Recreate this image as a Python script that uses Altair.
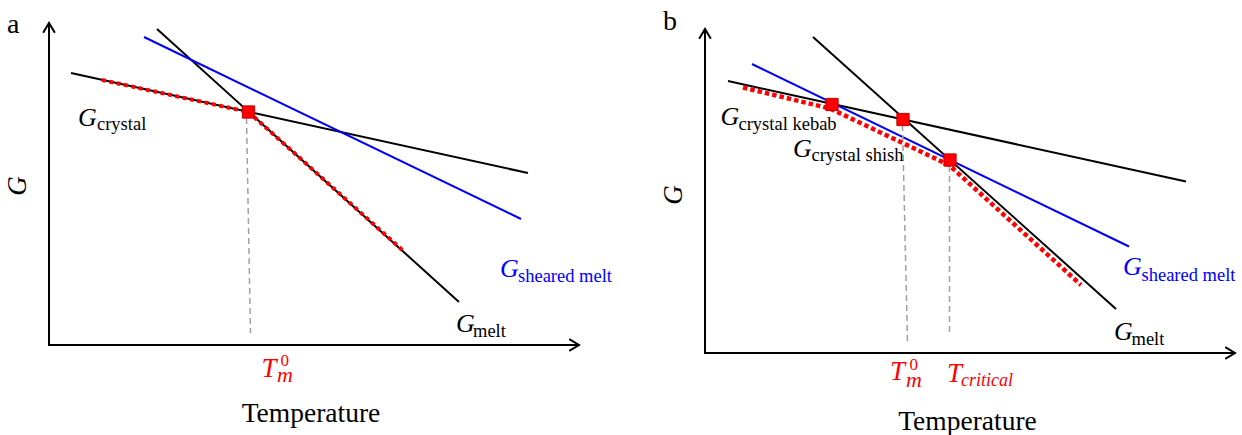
import altair as alt
import pandas as pd

SERIF = "Liberation Serif"
RED = "#ff0000"
BLUE = "#0000ff"
GREY = "#a0a0a0"

# ---------------- panel a : quiescent melt ----------------
# units: T to the right of the G axis, G above the temperature axis
A_AXIS_T = [0, 0, 530]
A_AXIS_G = [322, 0, 0]
A_CRYSTAL_T = [22, 479]
A_CRYSTAL_G = [272, 172]
A_MELT_T = [108, 410]
A_MELT_G = [316, 43]
A_SHEAR_T = [95, 472]
A_SHEAR_G = [308, 126]
A_STABLE_T = [53, 199.5, 355]          # lowest-G branch
A_STABLE_G = [265, 233, 93.5]
A_TM_T = [199.5]
A_TM_G = [233]
A_DROP_T = [197.5, 201.5]
A_DROP_G = [227, 12]

# ---------------- panel b : sheared melt ----------------
B_AXIS_T = [0, 0, 530]
B_AXIS_G = [324, 0, 0]
B_CRYSTAL_T = [23, 481]
B_CRYSTAL_G = [272, 171.5]
B_MELT_T = [108, 411]
B_MELT_G = [316, 44]
B_SHEAR_T = [47, 424]
B_SHEAR_G = [289, 106.5]
B_STABLE_T = [38, 125, 244, 376]
B_STABLE_G = [265.5, 244.5, 188, 68]
B_POINTS_T = [127, 198, 245]           # kebab, T_m^0, T_critical
B_POINTS_G = [248.5, 233.5, 193]
B_DROP1_T = [197.5, 202.5]
B_DROP1_G = [228, 11.5]
B_DROP2_T = [244.5, 244.5]
B_DROP2_G = [187, 20]

PANEL_TAGS = ["a", "b"]
X_TITLE = "Temperature"
Y_TITLE = "G"
SUB_CRYSTAL = "crystal"
SUB_KEBAB = "crystal kebab"
SUB_SHISH = "crystal shish"
SUB_SHEAR = "sheared melt"
SUB_MELT = "melt"
SUB_CRIT = "critical"

ONE = pd.DataFrame({"k": [0]})
ARROW = "M-0.9,1.5L0,0L0.9,1.5"


def panel(width, t0, g0):
    xs = alt.Scale(domain=[-t0, width - t0], nice=False, zero=False)
    ys = alt.Scale(domain=[g0 - 435, g0], nice=False, zero=False)

    def line(ts, gs, color, w, dash=None):
        df = pd.DataFrame({"T": ts, "G": gs, "i": list(range(len(ts)))})
        kw = dict(color=color, strokeWidth=w)
        if dash:
            kw["strokeDash"] = dash
        return alt.Chart(df).mark_line(**kw).encode(
            x=alt.X("T:Q", scale=xs, axis=None),
            y=alt.Y("G:Q", scale=ys, axis=None),
            order="i:Q",
        )

    def squares(ts, gs):
        df = pd.DataFrame({"T": ts, "G": gs})
        return alt.Chart(df).mark_point(
            shape="square", filled=True, fill=RED, stroke="#c00000",
            strokeWidth=1, size=150, opacity=1,
        ).encode(
            x=alt.X("T:Q", scale=xs, axis=None),
            y=alt.Y("G:Q", scale=ys, axis=None),
        )

    def arrow(t, g, ang):
        return alt.Chart(ONE).mark_point(
            shape=ARROW, filled=False, color="black", strokeWidth=2,
            size=169, angle=ang, opacity=1,
        ).encode(
            x=alt.XDatum(t, type="quantitative", scale=xs, axis=None),
            y=alt.YDatum(g, type="quantitative", scale=ys, axis=None),
        )

    def txt(s, t, g, size, color="black", style="normal", align="left",
            baseline="alphabetic", angle=0):
        return alt.Chart(ONE).mark_text(
            text=s, font=SERIF, fontSize=size, fontStyle=style, color=color,
            align=align, baseline=baseline, angle=angle,
        ).encode(
            x=alt.XDatum(t, type="quantitative", scale=xs, axis=None),
            y=alt.YDatum(g, type="quantitative", scale=ys, axis=None),
        )

    return line, squares, arrow, txt


# ---- panel a ----
line, squares, arrow, txt = panel(620, 49, 345)
layers_a = [
    line(A_AXIS_T, A_AXIS_G, "black", 2),
    arrow(A_AXIS_T[0], A_AXIS_G[0], 0),
    arrow(A_AXIS_T[-1], A_AXIS_G[-1], 90),
    line(A_CRYSTAL_T, A_CRYSTAL_G, "black", 2),
    line(A_MELT_T, A_MELT_G, "black", 2),
    line(A_SHEAR_T, A_SHEAR_G, BLUE, 2),
    line(A_STABLE_T, A_STABLE_G, RED, 4, [4, 3.5]),
    line(A_DROP_T, A_DROP_G, GREY, 1.5, [6, 4]),
    squares(A_TM_T, A_TM_G),
    txt(PANEL_TAGS[0], -42, 312, 28),
    txt(Y_TITLE, -31, 159, 27, style="italic", align="center",
        baseline="middle", angle=270),
    txt(X_TITLE, 262, -77, 27.5, align="center"),
    txt("G", 29, 219, 26, style="italic"),
    txt(SUB_CRYSTAL, 48, 215, 18.5),
    txt("G", 451, 68, 26, color=BLUE, style="italic"),
    txt(SUB_SHEAR, 469, 63.5, 18.5, color=BLUE),
    txt("G", 407, 13, 26, style="italic"),
    txt(SUB_MELT, 424, 8.5, 18.5),
    txt("T", 212.5, -32, 27, color=RED, style="italic"),
    txt("0", 231.5, -20.5, 17, color=RED),
    txt("m", 228, -36.5, 22, color=RED, style="italic"),
]
chart_a = alt.layer(*layers_a).properties(width=620, height=435)

# ---- panel b ----
line, squares, arrow, txt = panel(622, 85, 353)
layers_b = [
    line(B_AXIS_T, B_AXIS_G, "black", 2),
    arrow(B_AXIS_T[0], B_AXIS_G[0], 0),
    arrow(B_AXIS_T[-1], B_AXIS_G[-1], 90),
    line(B_CRYSTAL_T, B_CRYSTAL_G, "black", 2),
    line(B_MELT_T, B_MELT_G, "black", 2),
    line(B_STABLE_T, B_STABLE_G, RED, 4.5, [4.5, 3]),
    line(B_SHEAR_T, B_SHEAR_G, BLUE, 2),
    line(B_DROP1_T, B_DROP1_G, GREY, 1.5, [6, 4]),
    line(B_DROP2_T, B_DROP2_G, GREY, 1.5, [6, 4]),
    squares(B_POINTS_T, B_POINTS_G),
    txt(PANEL_TAGS[1], -42, 323, 28),
    txt(Y_TITLE, -31, 158, 27, style="italic", align="center",
        baseline="middle", angle=270),
    txt(X_TITLE, 262.5, -77, 27.5, align="center"),
    txt("G", 15.5, 228, 26, style="italic"),
    txt(SUB_KEBAB, 33.5, 223, 18.5),
    txt("G", 88, 196.5, 26, style="italic"),
    txt(SUB_SHISH, 106.5, 192.5, 18.5),
    txt("G", 418, 78, 26, color=BLUE, style="italic"),
    txt(SUB_SHEAR, 436.5, 72.5, 18.5, color=BLUE),
    txt("G", 409, 13, 26, style="italic"),
    txt(SUB_MELT, 426.5, 8.5, 18.5),
    txt("T", 185, -27, 27, color=RED, style="italic"),
    txt("0", 204.5, -16.5, 17, color=RED),
    txt("m", 201, -34, 22, color=RED, style="italic"),
    txt("T", 242, -28.5, 27, color=RED, style="italic"),
    txt(SUB_CRIT, 256, -33, 18, color=RED, style="italic"),
]
chart_b = alt.layer(*layers_b).properties(width=622, height=435)

chart = (
    alt.hconcat(chart_a, chart_b, spacing=0, bounds="flush")
    .properties(padding=0)
    .configure_view(stroke=None)
)

chart.save("out.html", embed_options={"renderer": "svg", "actions": False})
